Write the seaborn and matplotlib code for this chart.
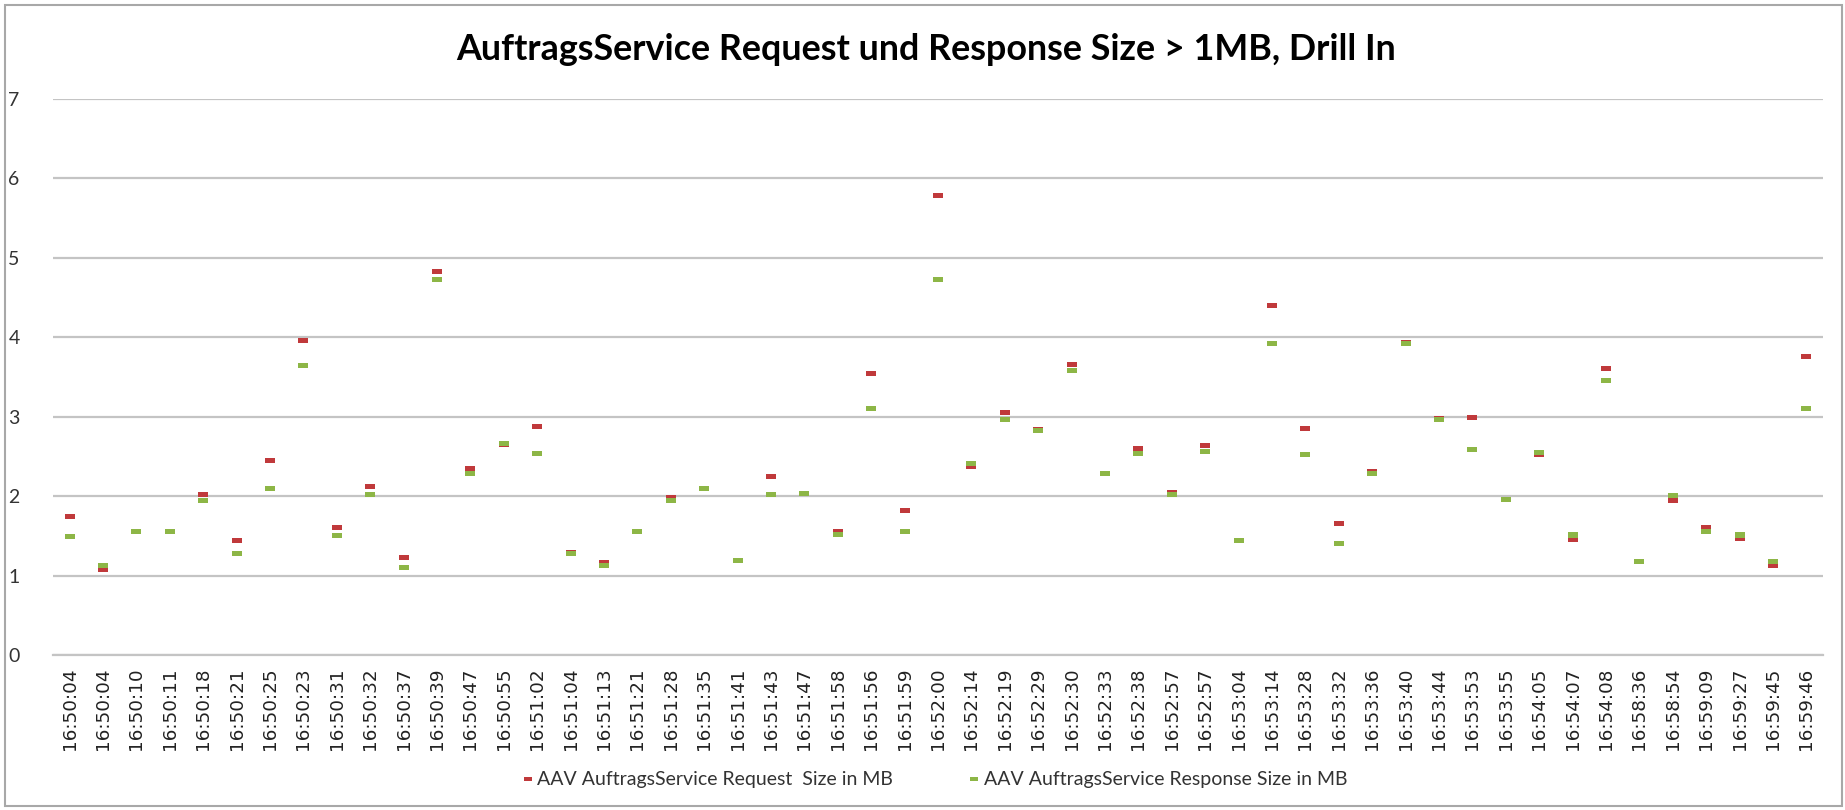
import pandas as pd
import matplotlib
matplotlib.use('Agg')
import matplotlib.pyplot as plt
import seaborn as sb
from matplotlib.patches import Rectangle

times = ['16:50:04', '16:50:04', '16:50:10', '16:50:11', '16:50:18', '16:50:21',
         '16:50:25', '16:50:23', '16:50:31', '16:50:32', '16:50:37', '16:50:39',
         '16:50:47', '16:50:55', '16:51:02', '16:51:04', '16:51:13', '16:51:21',
         '16:51:28', '16:51:35', '16:51:41', '16:51:43', '16:51:47', '16:51:58',
         '16:51:56', '16:51:59', '16:52:00', '16:52:14', '16:52:19', '16:52:29',
         '16:52:30', '16:52:33', '16:52:38', '16:52:57', '16:52:57', '16:53:04',
         '16:53:14', '16:53:28', '16:53:32', '16:53:36', '16:53:40', '16:53:44',
         '16:53:53', '16:53:55', '16:54:05', '16:54:07', '16:54:08', '16:58:36',
         '16:58:54', '16:59:09', '16:59:27', '16:59:45', '16:59:46']

request_mb = [1.74, 1.07, 1.56, 1.56, 2.02, 1.44, 2.45, 3.96, 1.61, 2.12, 1.23, 4.83,
              2.35, 2.65, 2.87, 1.29, 1.16, 1.56, 1.98, 2.10, 1.19, 2.25, 2.03, 1.56,
              3.54, 1.82, 5.78, 2.37, 3.05, 2.84, 3.66, 2.29, 2.60, 2.05, 2.64, 1.44,
              4.40, 2.85, 1.66, 2.31, 3.93, 2.98, 2.99, 1.96, 2.52, 1.45, 3.60, 1.18,
              1.95, 1.61, 1.47, 1.13, 3.76]

response_mb = [1.49, 1.12, 1.55, 1.56, 1.95, 1.28, 2.09, 3.64, 1.50, 2.02, 1.10, 4.72,
               2.29, 2.66, 2.53, 1.28, 1.12, 1.56, 1.95, 2.09, 1.19, 2.02, 2.03, 1.52,
               3.10, 1.55, 4.72, 2.41, 2.96, 2.83, 3.58, 2.28, 2.54, 2.02, 2.56, 1.44,
               3.92, 2.52, 1.40, 2.29, 3.92, 2.96, 2.59, 1.96, 2.55, 1.51, 3.46, 1.18,
               2.01, 1.56, 1.51, 1.18, 3.10]

req_label = 'AAV AuftragsService Request  Size in MB'
resp_label = 'AAV AuftragsService Response Size in MB'
colors = {req_label: '#C0393B', resp_label: '#8DB646'}

# long table, request rows first so response is drawn on top
pos = list(range(len(times)))
data = pd.DataFrame({
    'pos': pos + pos,
    'value': request_mb + response_mb,
    'series': [req_label] * len(times) + [resp_label] * len(times),
})

dash = [(-1, -0.5), (1, -0.5), (1, 0.5), (-1, 0.5), (-1, -0.5)]

fig = plt.figure(figsize=(18.45, 8.10), dpi=100)
ax = fig.add_axes([53 / 1845, 155 / 810, 1770 / 1845, 556.3 / 810])

sb.scatterplot(data=data, x='pos', y='value', hue='series', palette=colors,
               marker=dash, s=52, linewidth=0, ax=ax, zorder=3)

ax.set_xlim(-0.5, len(times) - 0.5)
ax.set_ylim(0, 7)
ax.set_yticks(range(0, 8))
ax.set_xticks(pos)
ax.set_xticklabels(times, rotation=90, family='DejaVu Sans', fontsize=13.2,
                   color='#222222')
for lab in ax.get_yticklabels():
    lab.set_family('Lato')
    lab.set_fontsize(14)
    lab.set_color('#333333')
ax.tick_params(axis='y', length=0, pad=24)
ax.tick_params(axis='x', length=0, pad=9)
ax.set_xlabel('')
ax.set_ylabel('')
ax.grid(axis='y', color='#C4C4C4', linewidth=1.6, zorder=0)
ax.grid(axis='x', visible=False)
for side in ['left', 'right', 'top']:
    ax.spines[side].set_visible(False)
ax.spines['bottom'].set_color('#C4C4C4')
ax.spines['bottom'].set_linewidth(1.6)
ax.set_facecolor('white')

fig.text(0.502, 1 - 50 / 810, 'AuftragsService Request und Response Size > 1MB, Drill In',
         ha='center', va='center', family='Lato', fontweight='bold', fontsize=25.8)

sb.move_legend(ax, 'center', bbox_to_anchor=((934 - 53) / 1770, (655 - 780) / 556.3),
               ncol=2, frameon=False, title=None, fontsize=14,
               handlelength=0.7, handletextpad=0.15, columnspacing=3.8,
               markerscale=0.8)
for t in ax.get_legend().get_texts():
    t.set_family('Lato')
    t.set_color('#333333')

fig.patches.append(Rectangle((5 / 1845, 4 / 810), 1837 / 1845, 801 / 810,
                             transform=fig.transFigure, fill=False,
                             edgecolor='#A8A8A8', linewidth=1.5))

fig.savefig('out.png', dpi=100, facecolor='white')
